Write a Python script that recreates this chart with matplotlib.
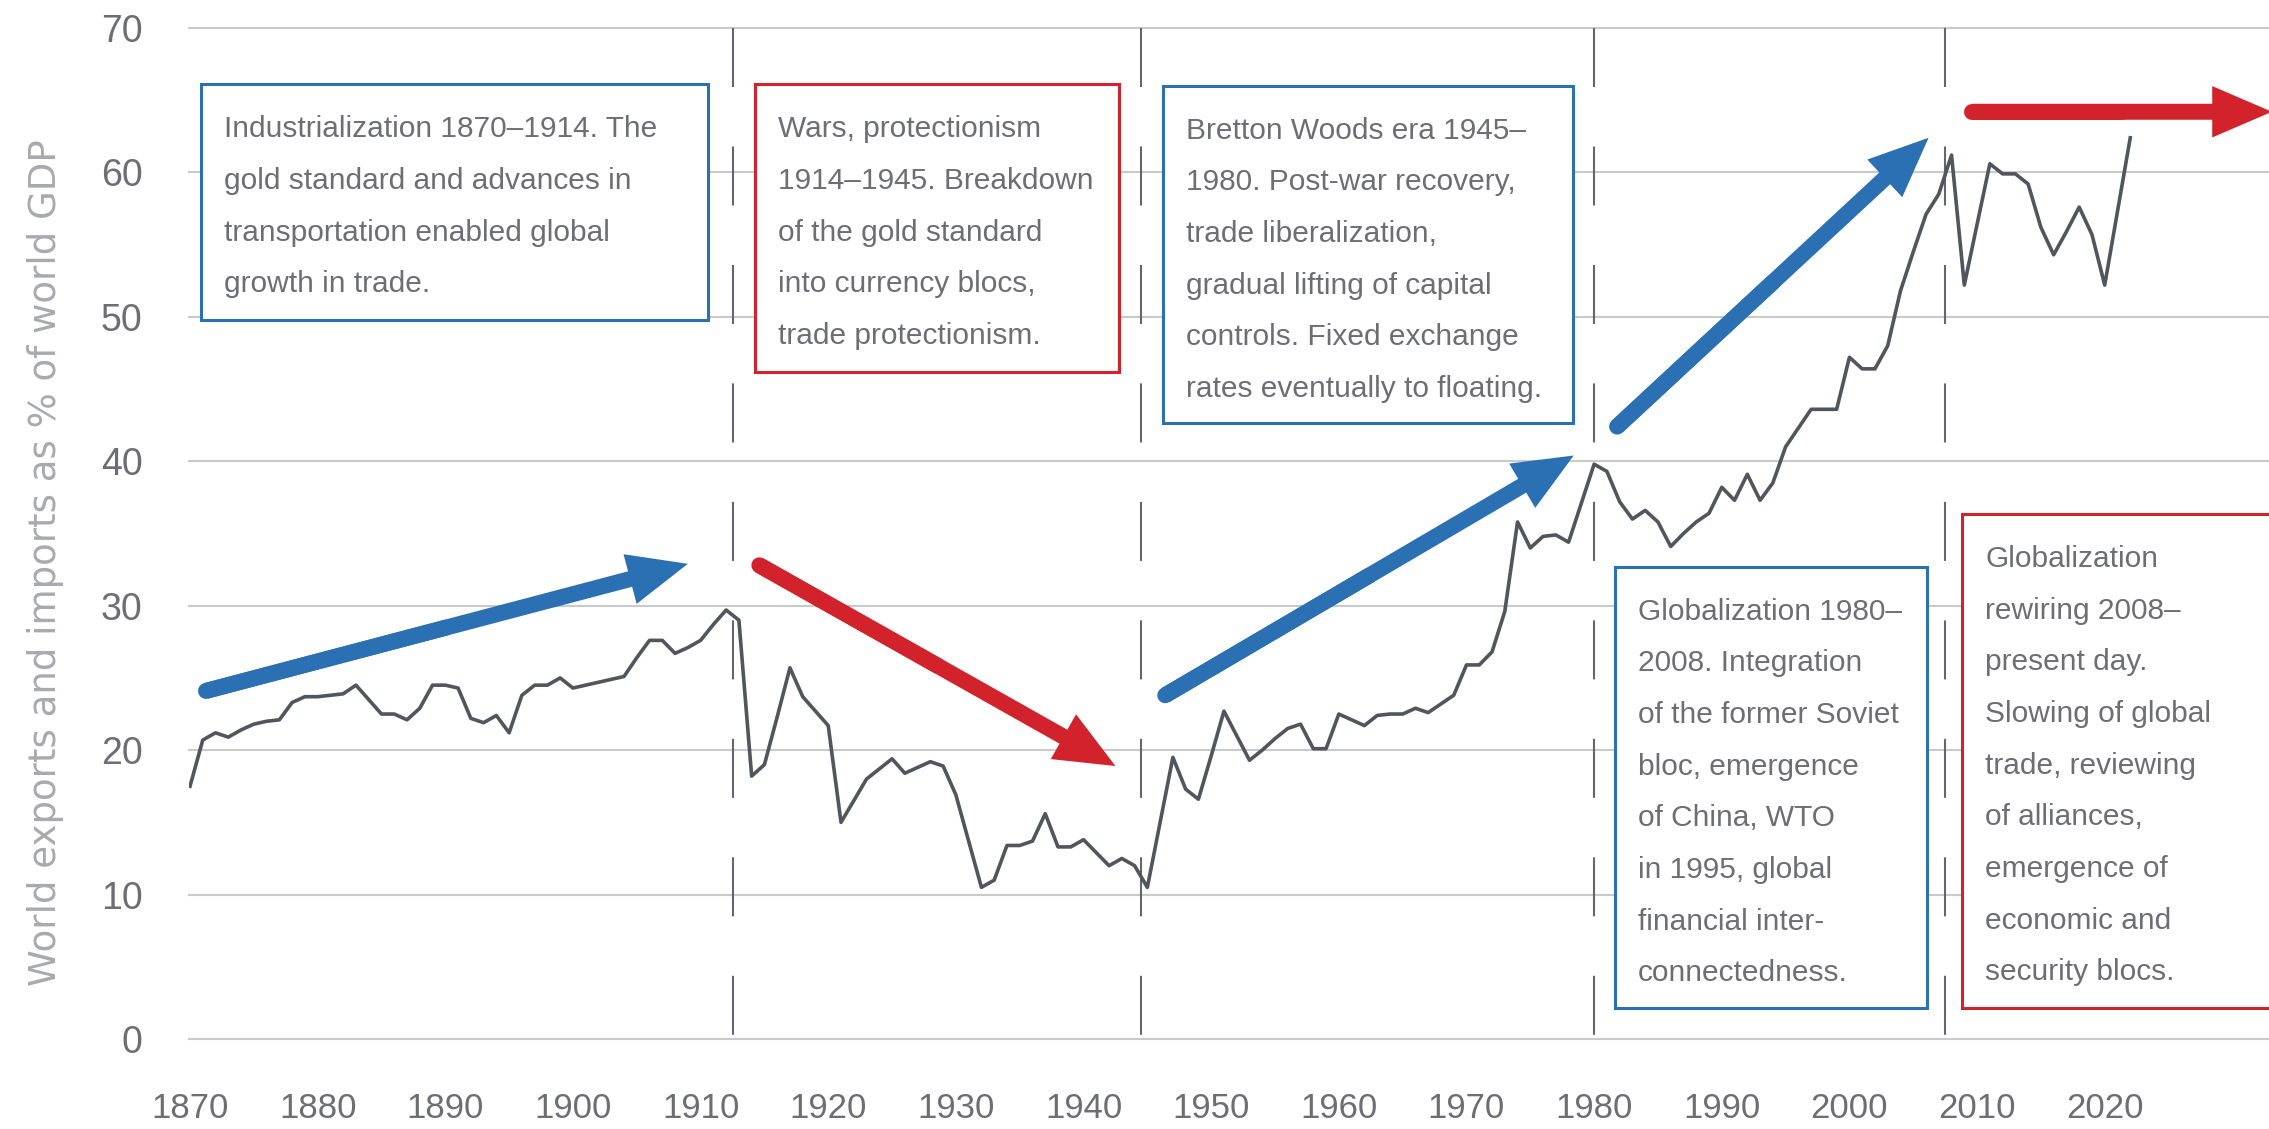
import numpy as np
import matplotlib
matplotlib.use("Agg")
import matplotlib.pyplot as plt
from matplotlib.patches import Rectangle, FancyArrowPatch, ArrowStyle

plt.rcParams['lines.scale_dashes'] = False

# World exports + imports as % of world GDP
years = np.arange(1870, 2023)
openness = [
    17.5, 20.7, 21.2, 20.9, 21.4, 21.8, 22.0, 22.1, 23.3, 23.7,   # 1870s
    23.7, 23.8, 23.9, 24.5, 23.5, 22.5, 22.5, 22.1, 22.9, 24.5,   # 1880s
    24.5, 24.3, 22.2, 21.9, 22.4, 21.2, 23.8, 24.5, 24.5, 25.0,   # 1890s
    24.3, 24.5, 24.7, 24.9, 25.1, 26.4, 27.6, 27.6, 26.7, 27.1,   # 1900s
    27.6, 28.7, 29.7, 29.0, 18.2, 19.0, 22.3, 25.7, 23.7, 22.7,   # 1910s
    21.7, 15.0, 16.5, 18.0, 18.7, 19.4, 18.4, 18.8, 19.2, 18.9,   # 1920s
    16.9, 13.7, 10.5, 11.0, 13.4, 13.4, 13.7, 15.6, 13.3, 13.3,   # 1930s
    13.8, 12.9, 12.0, 12.5, 12.0, 10.5, 15.0, 19.5, 17.3, 16.6,   # 1940s
    19.6, 22.7, 21.0, 19.3, 20.0, 20.8, 21.5, 21.8, 20.1, 20.1,   # 1950s
    22.5, 22.1, 21.7, 22.4, 22.5, 22.5, 22.9, 22.6, 23.2, 23.8,   # 1960s
    25.9, 25.9, 26.8, 29.6, 35.8, 34.0, 34.8, 34.9, 34.4, 37.1,   # 1970s
    39.8, 39.3, 37.2, 36.0, 36.6, 35.8, 34.1, 35.0, 35.8, 36.4,   # 1980s
    38.2, 37.3, 39.1, 37.3, 38.5, 41.0, 42.3, 43.6, 43.6, 43.6,   # 1990s
    47.2, 46.4, 46.4, 48.0, 51.8, 54.5, 57.1, 58.5, 61.2, 52.2,   # 2000s
    56.4, 60.6, 59.9, 59.9, 59.2, 56.2, 54.3, 55.9, 57.6, 55.7,   # 2010s
    52.2, 57.3, 62.4,                                             # 2020s
]

# period boundaries (dashed lines)
era_bounds = [1912.5, 1944.5, 1980.0, 2007.5]

xtick_years = list(range(1870, 2021, 10))
ytick_vals = list(range(0, 71, 10))

# text boxes: (left, right, top, bottom) in years / % , colour key, lines
box_extents = [
    (1870.86, 1910.58, 66.1, 49.8),
    (1914.26, 1942.74, 66.1, 46.2),
    (1946.19, 1978.33, 66.0, 42.65),
    (1981.60, 2006.04, 32.7, 2.16),
    (2008.82, 2036.0, 36.35, 2.16),
]
box_kinds = ['blue', 'red', 'blue', 'blue', 'red']
box_lines = [
    ["Industrialization 1870\u20131914. The", "gold standard and advances in",
     "transportation enabled global", "growth in trade."],
    ["Wars, protectionism", "1914\u20131945. Breakdown", "of the gold standard",
     "into currency blocs,", "trade protectionism."],
    ["Bretton Woods era 1945\u2013", "1980. Post-war recovery,", "trade liberalization,",
     "gradual lifting of capital", "controls. Fixed exchange", "rates eventually to floating."],
    ["Globalization 1980\u2013", "2008. Integration", "of the former Soviet", "bloc, emergence",
     "of China, WTO", "in 1995, global", "financial inter-", "connectedness."],
    ["Globalization", "rewiring 2008\u2013", "present day.", "Slowing of global",
     "trade, reviewing", "of alliances,", "emergence of", "economic and", "security blocs."],
]

# trend arrows: (x0, y0, x1, y1, colour key)
trend_arrows = [
    (1871.25, 24.1, 1909.0, 32.9, 'blue'),
    (1914.6, 32.8, 1942.5, 18.9, 'red'),
    (1946.4, 23.8, 1978.4, 40.4, 'blue'),
    (1981.8, 42.4, 2006.2, 62.4, 'blue'),
    (2009.6, 64.2, 2033.1, 64.2, 'red'),
]

colors = {'blue': '#2a70b3', 'red': '#d2222b'}
text_grey = '#6d6e71'
font = ['Liberation Sans', 'DejaVu Sans']

fig = plt.figure(figsize=(22.69, 11.29), dpi=100)
ax = fig.add_axes([188.6 / 2269, 90 / 1129, (2269 - 188.6) / 2269, 1011 / 1129])
ax.set_xlim(1869.89, 2032.87)
ax.set_ylim(0, 70)

for s in ax.spines.values():
    s.set_visible(False)

ax.set_xticks(xtick_years)
ax.set_yticks(ytick_vals)
ax.set_xticklabels([str(y) for y in xtick_years], family=font, fontsize=25, color=text_grey)
ax.set_yticklabels([str(v) for v in ytick_vals], family=font, fontsize=27, color=text_grey)
ax.tick_params(axis='x', length=0, pad=38)
ax.tick_params(axis='y', length=0, pad=33)

ax.yaxis.grid(True, color='#c8cacc', lw=1.5, zorder=0.5)
ax.xaxis.grid(False)
ax.set_axisbelow(True)
for gl in ax.get_ygridlines():
    gl.set_clip_on(False)

# dashed era separators
for b in era_bounds:
    ax.plot([b, b], [70, 0], color='#63666a', lw=1.5, ls=(0, (42.5, 42.8)),
            dash_capstyle='butt', zorder=1)

# boxes with text
for (l, r, t, btm), kind, lines in zip(box_extents, box_kinds, box_lines):
    ax.add_patch(Rectangle((l, btm), r - l, t - btm, facecolor='white',
                           edgecolor=colors[kind], lw=2.2, zorder=2))
    for i, line in enumerate(lines):
        ax.annotate(line, xy=(l, t), xycoords='data',
                    xytext=(16.6, -(38.2 + i * 37.2)), textcoords='offset points',
                    ha='left', va='baseline', fontsize=21.5, family=font,
                    color=text_grey, zorder=5, annotation_clip=False)

# data line
ax.plot(years, openness, color='#51555c', lw=2.6, zorder=3)

# trend arrows
for x0, y0, x1, y1, kind in trend_arrows:
    c = colors[kind]
    ax.plot([x0, (x0 + x1) / 2], [y0, (y0 + y1) / 2], color=c, lw=11.5,
            solid_capstyle='round', zorder=4)
    arr = FancyArrowPatch((x0, y0), (x1, y1),
                          arrowstyle=ArrowStyle.Simple(head_length=43, head_width=37, tail_width=11.5),
                          mutation_scale=1, shrinkA=0, shrinkB=0,
                          color=c, lw=0, zorder=4)
    ax.add_patch(arr)

fig.text(46 / 2269, 1 - 563 / 1129, "World exports and imports as % of world GDP",
         rotation=90, ha='center', va='center', fontsize=26.7, color='#a8aaad',
         family=['DejaVu Sans'])

fig.savefig('out.png', dpi=100, facecolor='white')
